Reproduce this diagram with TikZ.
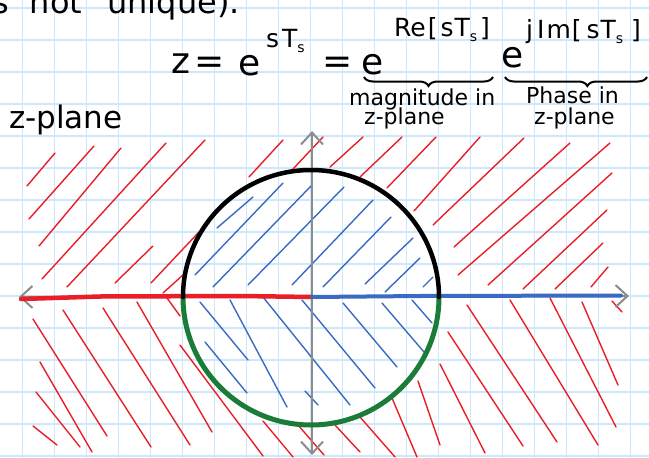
\documentclass[tikz,border=0pt]{standalone}
\usepackage{fontspec}
\setmainfont{DejaVu Sans}
\usetikzlibrary{arrows.meta,decorations.pathreplacing}
\definecolor{gridblue}{RGB}{204,232,250}
\definecolor{hred}{RGB}{234,30,38}
\definecolor{hblue}{RGB}{58,106,194}
\definecolor{axgray}{RGB}{140,140,140}
\definecolor{cgreen}{RGB}{26,124,56}
\newcommand{\subs}{\raisebox{-5pt}{\fontsize{14}{14}\selectfont s}}
\begin{document}
\begin{tikzpicture}[x=1pt,y=-1pt,
  gridline/.style={gridblue,line width=1.8pt},
  redh/.style={hred,line width=1.4pt,line cap=round},
  blueh/.style={hblue,line width=1.4pt,line cap=round},
  axisline/.style={axgray,line width=2pt,
    {Straight Barb[length=12pt,width=22pt]}-{Straight Barb[length=12pt,width=22pt]}},
  realneg/.style={hred,line width=4.5pt,line cap=round,line join=round},
  realpos/.style={hblue,line width=4pt,line cap=round,line join=round},
  uppercirc/.style={black,line width=4.5pt,line cap=round},
  lowercirc/.style={cgreen,line width=5pt,line cap=round},
  txt/.style={inner sep=0pt,anchor=base west,text=black},
  eqbig/.style={txt,font=\fontsize{36}{40}\selectfont},
  eqsup/.style={txt,font=\fontsize{25}{28}\selectfont},
  lbl/.style={txt,font=\fontsize{22}{24}\selectfont},
  bigl/.style={txt,font=\fontsize{31}{34}\selectfont},
  bracestyle/.style={black,line width=2pt,decorate}
]
\useasboundingbox (0,0) rectangle (649,458);
\clip (0,0) rectangle (649,458);
\fill[white] (0,0) rectangle (649,458);

% grid
\foreach \gx in {0,...,19} \draw[gridline] (22.5+32*\gx,0) -- (22.5+32*\gx,458);
\foreach \gy in {0,...,14} \draw[gridline] (0,8+32*\gy) -- (649,8+32*\gy);

% red hatching, upper half
\foreach \a/\b/\c/\d in {27/186/55/153, 29/219/94/146, 39/246/121/148, 42/279/166/143,
  67/287/205/140, 115/283/153/246, 151/283/199/232, 163/293/183/275, 249/177/283/140, 293/169/323/137,
  330/167/363/137, 360/177/402/137, 387/188/436/137, 414/211/480/137, 433/225/524/138,
  454/247/570/143, 458/275/610/143, 488/285/612/173, 523/289/607/210, 555/289/603/243,
  591/287/608/267}
  \draw[redh] (\a,\b) -- (\c,\d);
% red hatching, lower half
\foreach \a/\b/\c/\d in {33/319/107/436, 63/310/151/447, 103/308/190/445, 137/302/212/432,
  167/298/180/316, 180/345/263/456, 40/362/92/452, 36/392/80/447, 33/426/57/445,
  263/421/293/457, 298/425/324/455, 335/425/360/452, 360/417/395/457, 392/398/417/457,
  418/381/440/445, 440/364/485/453, 448/332/523/446, 467/305/557/442, 510/300/598/445,
  550/298/616/427, 582/302/618/385, 612/301/622/312}
  \draw[redh] (\a,\b) -- (\c,\d);
% blue hatching, upper half
\foreach \a/\b/\c/\d in {217/228/253/197, 195/275/283/183, 213/287/312/185, 248/285/344/187,
  292/285/373/200, 323/287/391/217, 365/284/413/238, 385/292/420/258, 423/287/433/277}
  \draw[blueh] (\a,\b) -- (\c,\d);
% blue hatching, lower half
\foreach \a/\b/\c/\d in {200/302/248/360, 205/342/247/393, 230/300/287/407, 263/297/350/405,
  302/300/375/388, 343/303/397/367, 382/303/424/352, 412/300/432/323, 305/391/318/405}
  \draw[blueh] (\a,\b) -- (\c,\d);

% axes
\coordinate (xl) at (19,297);
\coordinate (xr) at (629,296);
\coordinate (yt) at (312,131);
\coordinate (yb) at (312,455);
\coordinate (o) at (312,297);
\draw[axisline] (xl) -- (xr);
\draw[axisline] (yb) -- (yt);

% real axis halves
\draw[realneg] (21,299) -- (100,296.5) -- (240,296) -- (o);
\draw[realpos] (o) -- (420,296) -- (621,295.5);

% unit circle
\coordinate (cl) at (183,297);
\draw[lowercirc] (cl) arc[start angle=180,end angle=0,x radius=128,y radius=128];
\draw[uppercirc] (cl) arc[start angle=180,end angle=360,x radius=128,y radius=127];

% text
\node[txt,font=\fontsize{32}{36}\selectfont] (top) at (-8,13) {s\hspace{21pt}not\hspace{25pt}unique).};
\node[eqbig] (z) at (171,73) {z};
\node[eqbig] (eqa) at (194,73) {=};
\node[eqbig] (ea) at (238,75) {e};
\node[eqsup] (supa) at (266,47) {s\hspace{3pt}T\subs};
\node[eqbig] (eqb) at (322,73) {=};
\node[eqbig] (eb) at (361,74) {e};
\node[eqsup] (supb) at (394,36) {Re\hspace{2pt}[\hspace{3pt}s\hspace{1pt}T\subs\hspace{3pt}]};
\node[eqbig] (ec) at (501,67) {e};
\node[eqsup] (supc) at (526,38) {j\hspace{4pt}I\hspace{2pt}m\hspace{1pt}[\hspace{5pt}s\hspace{1pt}T\subs\hspace{8pt}]};

\coordinate (ba) at (364,77);
\coordinate (bb) at (493,77);
\coordinate (bc) at (505,77);
\coordinate (bd) at (647,77);
\draw[bracestyle,decoration={brace,mirror,amplitude=9pt}] (ba) -- (bb);
\draw[bracestyle,decoration={brace,mirror,amplitude=9pt,aspect=0.58}] (bc) -- (bd);

\node[lbl] (mag) at (349,105) {magnitude in};
\node[lbl] (magz) at (364,124) {z-plane};
\node[lbl] (ph) at (526,103) {Phase in};
\node[lbl] (phz) at (534,124) {z-plane};
\node[bigl] (zpl) at (9,128) {z-plane};
\end{tikzpicture}
\end{document}
